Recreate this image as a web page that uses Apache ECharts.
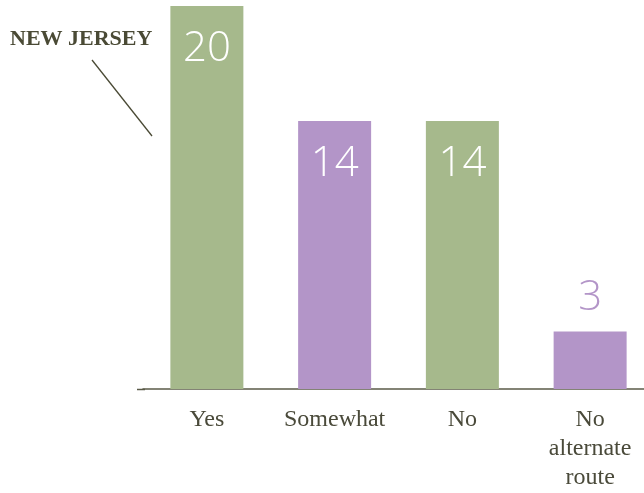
<!DOCTYPE html>
<html><head><meta charset="utf-8">
<script src="https://cdn.jsdelivr.net/npm/echarts@6/dist/echarts.min.js"></script>
<style>html,body{margin:0;padding:0;background:#fff}#c{width:644px;height:493px}</style>
</head><body><div id="c"></div>
<script>
const categories = ['Yes', 'Somewhat', 'No', 'No\nalternate\nroute'];
const values = [20, 14, 14, 3];
const barColors = ['#a6b98c', '#b395c8', '#a6b98c', '#b395c8'];
const labelInside = [true, true, true, false];

const chart = echarts.init(document.getElementById('c'));
chart.setOption({
  animation: false,
  grid: { left: 143, width: 511, top: 6, bottom: 104, outerBoundsMode: 'none', containLabel: false },
  xAxis: {
    type: 'category', data: categories,
    axisLine: { lineStyle: { color: '#5b5b48', width: 1.5 } },
    axisTick: { show: false },
    axisLabel: { interval: 0, color: '#4a4a3a', fontFamily: 'Liberation Serif', fontSize: 24, lineHeight: 29, margin: 16 }
  },
  yAxis: { type: 'value', min: 0, max: 20, show: false, splitLine: { show: false } },
  series: [{
    type: 'bar', barWidth: 73,
    data: values.map((v, i) => ({
      value: v,
      itemStyle: { color: barColors[i] },
      label: labelInside[i]
        ? { show: true, position: 'insideTop', distance: 22, color: '#ffffff' }
        : { show: true, position: 'top', distance: 13, color: barColors[i] }
    })),
    label: { fontFamily: 'Open Sans', fontWeight: 300, fontSize: 42 }
  }],
  graphic: [
    { type: 'line', shape: { x1: 137, y1: 389.5, x2: 145, y2: 389.5 }, style: { stroke: '#5b5b48', lineWidth: 1.5 } },
    { type: 'text', left: 10, top: 28, style: { text: 'NEW JERSEY', font: 'bold 22px "Liberation Serif"', fill: '#4a4a35' } },
    { type: 'line', shape: { x1: 92, y1: 60, x2: 152, y2: 136 }, style: { stroke: '#4a4a35', lineWidth: 1.3 } }
  ]
});
</script></body></html>
